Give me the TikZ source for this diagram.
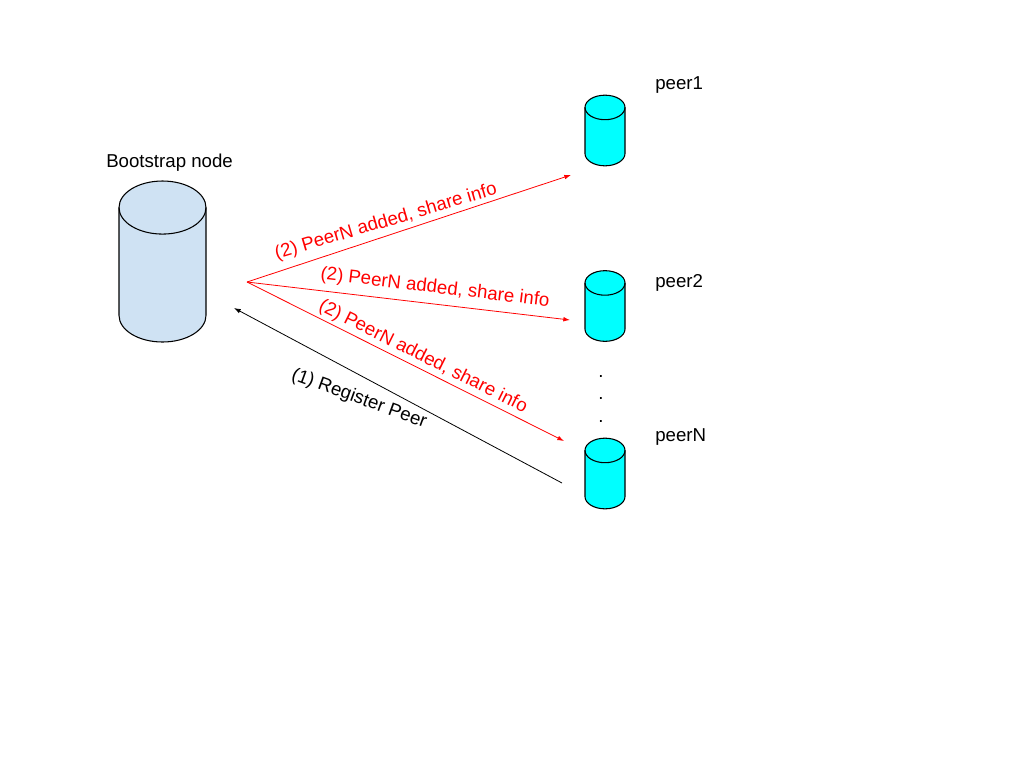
\documentclass[tikz,border=0pt]{standalone}
\usepackage{fontspec}
\setmainfont{Liberation Sans}
\usetikzlibrary{arrows.meta}
\definecolor{bootblue}{HTML}{CFE2F3}
\definecolor{peercyan}{HTML}{00FFFF}
\tikzset{
    bootstore/.style={inner sep=0pt,outer sep=0pt,minimum width=65.25pt,minimum height=120.75pt},
    peerstore/.style={inner sep=0pt,outer sep=0pt,minimum width=30pt,minimum height=53pt},
    caption/.style={font=\fontsize{14}{16}\selectfont,inner sep=0pt},
    flow/.style={-{Latex[length=5pt,width=3.5pt]},line width=0.6pt},
}
% name, fill, x radius, y radius
\newcommand{\storeshape}[4]{
    \draw [line width=0.8pt,fill=#2] ([yshift=-#4]#1.north west)
        arc [start angle=180,end angle=0,x radius=#3,y radius=#4]
        -- ([yshift=#4]#1.south east)
        arc [start angle=360,end angle=180,x radius=#3,y radius=#4] -- cycle;
    \draw [line width=0.8pt] ([yshift=-#4]#1.north west)
        arc [start angle=180,end angle=360,x radius=#3,y radius=#4];
}
\begin{document}
\begin{tikzpicture}[x=0.75pt,y=-0.75pt]
    \useasboundingbox (0,0) rectangle (1024,768);
    % stores
    \node [bootstore] (boot) at (162.5,261.5) {};
    \node [peerstore] (peer1) at (605,130.5) {};
    \node [peerstore] (peer2) at (605,306) {};
    \node [peerstore] (peerN) at (605,473.5) {};
    \storeshape{boot}{bootblue}{32.625pt}{19.9pt}
    \foreach \p in {peer1,peer2,peerN} {
        \storeshape{\p}{peercyan}{15pt}{9.2pt}
    }
    \node [caption,anchor=west] (bootname) at (106,162.5) {Bootstrap node};
    \node [caption,anchor=west] (name1) at (655,85) {peer1};
    \node [caption,anchor=west] (name2) at (655,283) {peer2};
    \node [caption,anchor=west] (nameN) at (655,437) {peerN};
    \node [caption] (dot1) at (601,376.5) {.};
    \node [caption] (dot2) at (601,398.5) {.};
    \node [caption] (dot3) at (601,421.5) {.};
    % free ends of the connectors
    \coordinate (hub) at (247,282);
    \coordinate (end1) at (571,175);
    \coordinate (end2) at (570,320);
    \coordinate (endN) at (564,441);
    \coordinate (regstart) at (562,483);
    \coordinate (regend) at (234,308);
    \begin{scope}[red]
    \draw [flow] (hub) -- (end1);
    \draw [flow] (hub) -- (end2);
    \draw [flow] (hub) -- (endN);
    \node [caption,rotate=16.5] (add1) at (386,222) {(2) PeerN added, share info};
    \node [caption,rotate=-6.8] (add2) at (435,288) {(2) PeerN added, share info};
    \node [caption,rotate=-26.5] (addN) at (423,357) {(2) PeerN added, share info};
    \end{scope}
    \draw [flow] (regstart) -- (regend);
    \node [caption,rotate=-20] (reg) at (359,399) {(1) Register Peer};
\end{tikzpicture}
\end{document}
